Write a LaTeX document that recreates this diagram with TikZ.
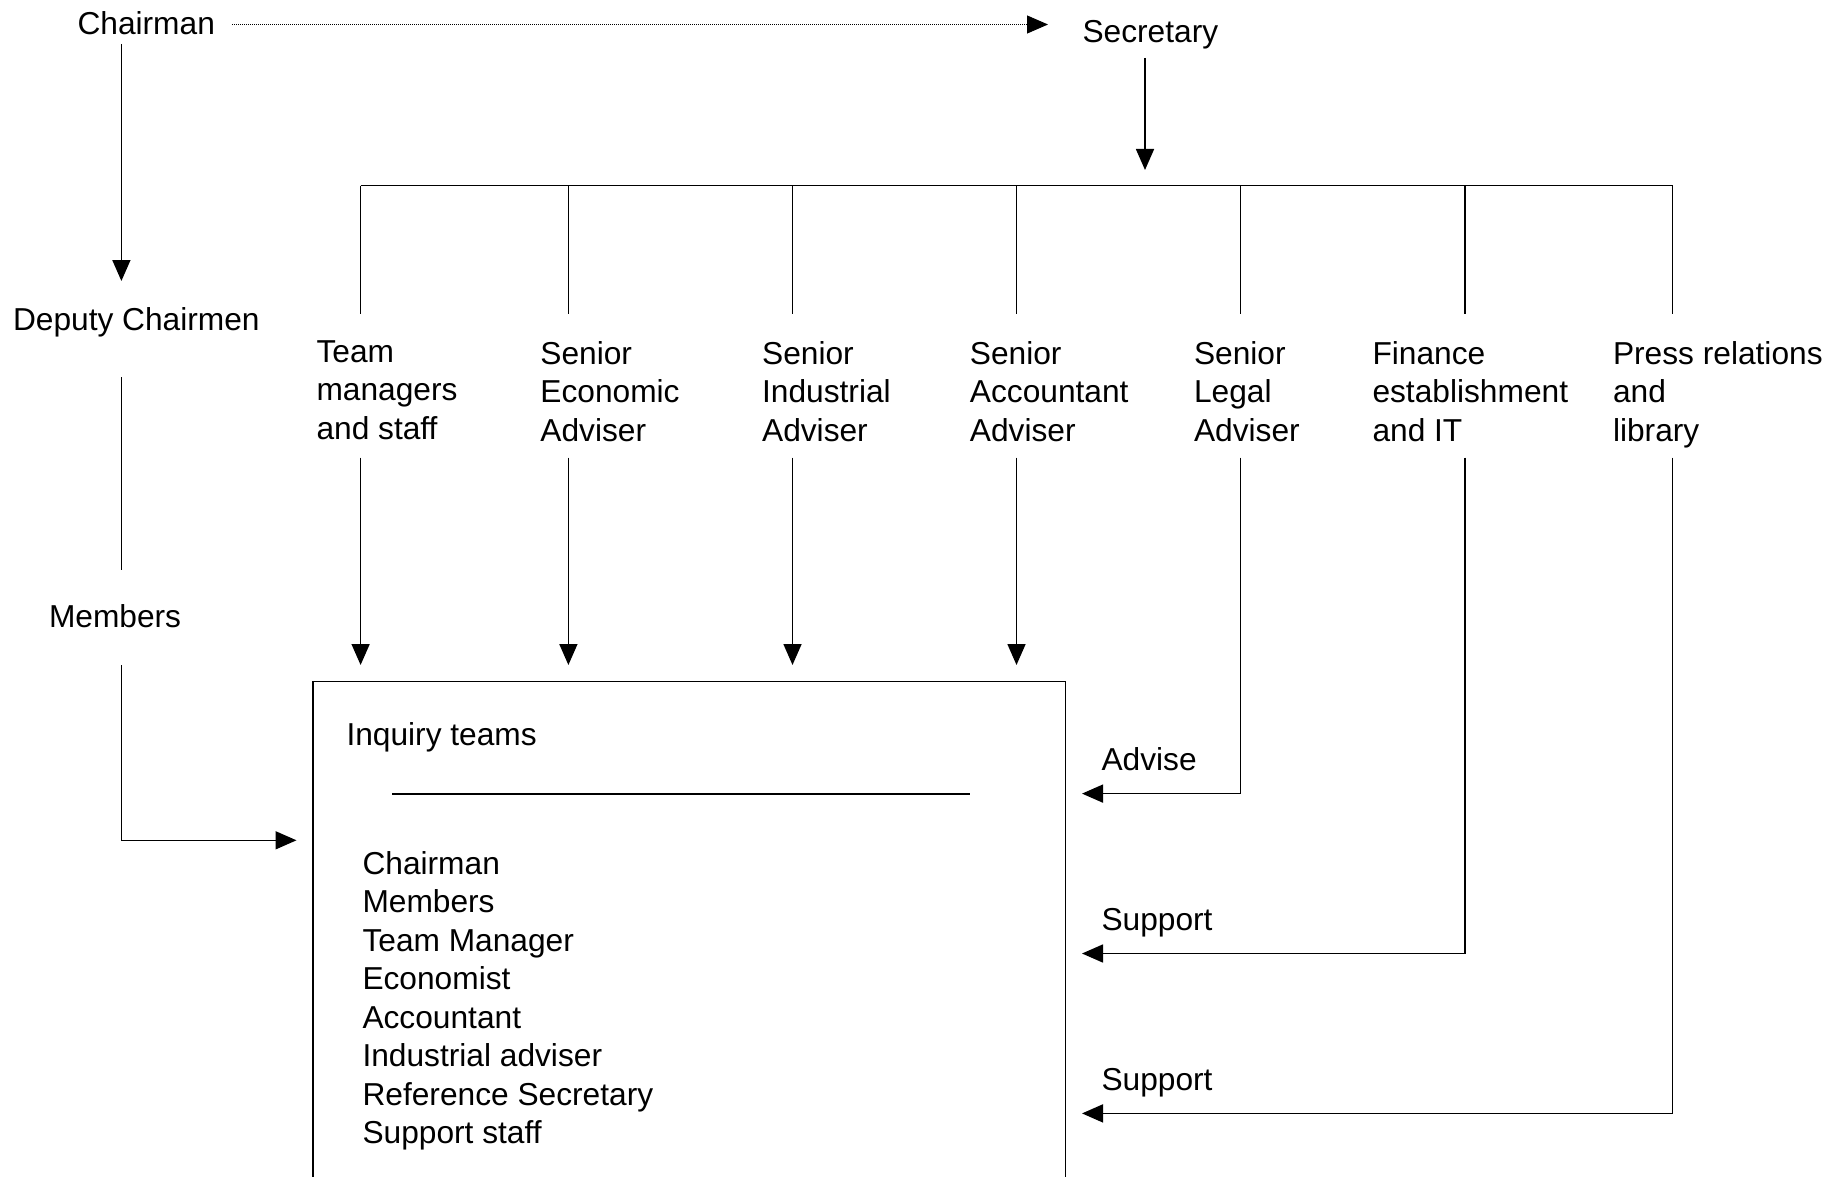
\documentclass[tikz,border=0pt]{standalone}
\usepackage{fontspec}
\setmainfont{Liberation Sans}
\usetikzlibrary{arrows.meta}
\begin{document}
\begin{tikzpicture}[x=1pt,y=-1pt,
  every node/.style={inner sep=0pt, outer sep=0pt, anchor=base west, font=\fontsize{31.7}{38.5}\selectfont},
  conn/.style={line width=1.6pt, line join=miter},
  arr/.style={conn, -{Triangle[length=21pt,width=18pt]}}]
\useasboundingbox (0,0) rectangle (1830,1177);
\newcommand{\ml}[1]{\begin{tabular}[t]{@{}l@{}}#1\end{tabular}}
% top row
\node (chair) at (77.5,35) {Chairman};
\node (sec) at (1082.5,43) {Secretary};
\coordinate (chairR) at (232,24.5);
\coordinate (secL) at (1048,24.5);
\draw[densely dotted, line width=1pt, -{Triangle[length=21pt,width=18pt]}] (chairR) -- (secL);
% secretary to bus
\coordinate (secB) at (1145,58);
\coordinate (busT) at (1145,170);
\draw[arr] (secB) -- (busT);
\coordinate (busL) at (360.6,185.6);
\coordinate (busR) at (1672.5,185.6);
\draw[conn] (busL) -- (busR);
% branch labels
\node (tm) at (316.5,362) {\ml{Team\\managers\\and staff}};
\node (se) at (540.4,364) {\ml{Senior\\Economic\\Adviser}};
\node (si) at (762.1,364) {\ml{Senior\\Industrial\\Adviser}};
\node (sa) at (969.9,364) {\ml{Senior\\Accountant\\Adviser}};
\node (sl) at (1194,364) {\ml{Senior\\Legal\\Adviser}};
\node (fe) at (1372.5,364) {\ml{Finance\\establishment\\and IT}};
\node (pr) at (1613,364) {\ml{Press relations\\and\\library}};
% drops from bus
\foreach \x/\n in {360.6/a,568.4/b,792.5/c,1016.5/d,1240.6/e,1464.7/f,1672.5/g}{
  \coordinate (top\n) at (\x,185.6);
  \coordinate (mid\n) at (\x,314);
  \coordinate (low\n) at (\x,457.5);
  \draw[conn] (top\n) -- (mid\n);
}
% arrows into top of box
\coordinate (enda) at (360.6,665);
\coordinate (endb) at (568.4,665);
\coordinate (endc) at (792.5,665);
\coordinate (endd) at (1016.5,665);
\draw[arr] (lowa) -- (enda);
\draw[arr] (lowb) -- (endb);
\draw[arr] (lowc) -- (endc);
\draw[arr] (lowd) -- (endd);
% box (cut off at bottom)
\coordinate (boxBL) at (312.8,1177);
\coordinate (boxTL) at (312.8,681.6);
\coordinate (boxTR) at (1065.6,681.6);
\coordinate (boxBR) at (1065.6,1177);
\draw[conn] (boxBL) -- (boxTL) -- (boxTR) -- (boxBR);
\node (inq) at (346.5,745.5) {Inquiry teams};
\coordinate (ruleL) at (392,794);
\coordinate (ruleR) at (970,794);
\draw[conn] (ruleL) -- (ruleR);
\node (list) at (362.5,874) {\ml{Chairman\\Members\\Team Manager\\Economist\\Accountant\\Industrial adviser\\Reference Secretary\\Support staff}};
% side arrows
\coordinate (advT) at (1082,793.6);
\coordinate (sup1T) at (1082,953.5);
\coordinate (sup2T) at (1082,1113.4);
\draw[arr] (lowe) |- (advT);
\draw[arr] (lowf) |- (sup1T);
\draw[arr] (lowg) |- (sup2T);
\node (adv) at (1101.5,770.5) {Advise};
\node (sup1) at (1101.5,930.5) {Support};
\node (sup2) at (1101.5,1090.5) {Support};
% left column
\node (dep) at (13,330) {Deputy Chairmen};
\node (mem) at (49,627) {Members};
\coordinate (chairB) at (121.4,44);
\coordinate (depT) at (121.4,281);
\draw[arr] (chairB) -- (depT);
\coordinate (depB) at (121.4,377);
\coordinate (memT) at (121.4,569.5);
\draw[conn] (depB) -- (memT);
\coordinate (memB) at (121.4,665);
\coordinate (boxIn) at (296.5,840.3);
\draw[arr] (memB) |- (boxIn);
\end{tikzpicture}
\end{document}
